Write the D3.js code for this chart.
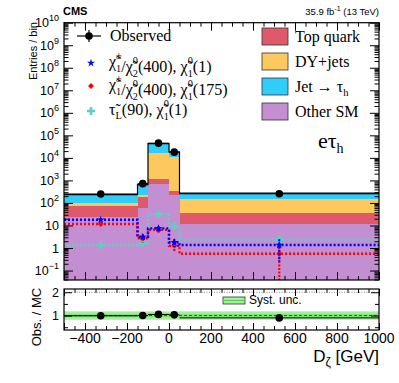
<!DOCTYPE html>
<html>
<head>
<meta charset="utf-8">
<script src="https://cdn.jsdelivr.net/npm/d3@7"></script>
<style>
  body { margin: 0; background: #fff; }
  svg { display: block; }
  .sans { font-family: "Liberation Sans", Arial, sans-serif; }
  .serif { font-family: "Liberation Serif", "Times New Roman", serif; }
</style>
</head>
<body>
<div id="chart"></div>
<script>
// bins in D_zeta [GeV]
const binEdges = [-500, -150, -100, 0, 50, 1000];
const binCenters = [-325, -125, -50, 25, 525];

// stacked backgrounds (entries / bin)
const otherSM = [24, 60, 700, 214, 12];
const topQuark = [52, 118, 450, 111, 23];
const dyJets = [24, 56, 15850, 10675, 120];
const jetTau = [135, 416, 26000, 7600, 120];

// data
const observed = [250, 720, 45000, 18000, 255];

// signals
const sigC1N2_1 = [18, 3.1, 7.4, 1.8, 1.35];
const sigC1N2_1Err = [3, 1.0, 2, 0.7, 1.1];
const sigC1N2_175 = [11.7, 2.7, 6.5, 1.25, 0.56];
const sigC1N2_175Err = [2.5, 1.0, 1.8, 0.6, 0.56];
const sigStau = [1.35, 1.6, 32, 9.1, 2.35];
const sigStauErr = [0.4, 0.6, 7, 3, 0.6];

// ratio panel
const ratio = [0.99, 1.0, 1.05, 1.03, 0.9];
const ratioErr = [0.06, 0.04, 0.01, 0.01, 0.06];
const systUnc = 0.18;

const xTicks = [-400, -200, 0, 200, 400, 600, 800, 1000];

const W = 399, H = 383;
const L = 64, R = 379, T = 22.7, B = 280, RT = 289, RB = 330;

const svg = d3.select("#chart").append("svg")
  .attr("width", W).attr("height", H);

const x = d3.scaleLinear().domain([-500, 1000]).range([L, R]);
const y = d3.scaleLog().domain([0.038, 1e10]).range([B, T]);
const yr = d3.scaleLinear().domain([0.38, 2.14]).range([RB, RT]);

const colors = {
  otherSM: "#c38ed2",
  topQuark: "#de5a6b",
  dyJets: "#fdc95f",
  jetTau: "#30cdfb"
};

svg.append("defs").append("clipPath").attr("id", "clipMain")
  .append("rect").attr("x", L).attr("y", T).attr("width", R - L).attr("height", B - T);

const main = svg.append("g").attr("clip-path", "url(#clipMain)");

// stack
const rows = binCenters.map((c, i) => ({
  i, otherSM: otherSM[i], topQuark: topQuark[i], dyJets: dyJets[i], jetTau: jetTau[i]
}));
const keys = ["otherSM", "topQuark", "dyJets", "jetTau"];
const series = d3.stack().keys(keys)(rows);
const yMin = y.domain()[0];

series.forEach(s => {
  main.selectAll(null).data(s).enter().append("rect")
    .attr("x", d => x(binEdges[d.data.i]))
    .attr("width", d => x(binEdges[d.data.i + 1]) - x(binEdges[d.data.i]))
    .attr("y", d => y(d[1]))
    .attr("height", d => y(Math.max(d[0], yMin)) - y(d[1]))
    .attr("fill", colors[s.key])
    .attr("shape-rendering", "crispEdges");
});

// total outline
const totals = series[series.length - 1].map(d => d[1]);
const step = d3.line().curve(d3.curveStepAfter).x(d => x(d[0])).y(d => y(d[1]));
const stepPts = arr => binEdges.map((e, i) => [e, arr[Math.min(i, arr.length - 1)]]);
main.append("path").attr("d", step(stepPts(totals)))
  .attr("fill", "none").attr("stroke", "#000").attr("stroke-width", 1.2);

// signals
const signals = [
  { vals: sigStau, err: sigStauErr, color: "#5fcfbf", marker: "cross" },
  { vals: sigC1N2_175, err: sigC1N2_175Err, color: "#ff0000", marker: "diamond" },
  { vals: sigC1N2_1, err: sigC1N2_1Err, color: "#0000ff", marker: "star" }
];
const markerPath = {
  star: d3.symbol().type(d3.symbolStar).size(20),
  diamond: d3.symbol().type(d3.symbolDiamond2).size(22),
  cross: d3.symbol().type(d3.symbolCross).size(36)
};
signals.forEach(sg => {
  main.append("path").attr("d", step(stepPts(sg.vals)))
    .attr("fill", "none").attr("stroke", sg.color)
    .attr("stroke-width", 2.4).attr("stroke-dasharray", "2,2");
  main.selectAll(null).data(sg.vals).enter().append("line")
    .attr("x1", (d, i) => x(binCenters[i])).attr("x2", (d, i) => x(binCenters[i]))
    .attr("y1", (d, i) => y(d + sg.err[i]))
    .attr("y2", (d, i) => y(Math.max(d - sg.err[i], yMin)))
    .attr("stroke", sg.color).attr("stroke-width", 2.2).attr("stroke-dasharray", "2,1.5");
  main.selectAll(null).data(sg.vals).enter().append("path")
    .attr("d", markerPath[sg.marker])
    .attr("transform", (d, i) => `translate(${x(binCenters[i])},${y(d)})`)
    .attr("fill", sg.color);
});

// observed
main.selectAll(null).data(observed).enter().append("line")
  .attr("x1", (d, i) => x(binEdges[i])).attr("x2", (d, i) => x(binEdges[i + 1]))
  .attr("y1", d => y(d)).attr("y2", d => y(d))
  .attr("stroke", "#000").attr("stroke-width", 1);
main.selectAll(null).data(observed).enter().append("line")
  .attr("x1", (d, i) => x(binCenters[i])).attr("x2", (d, i) => x(binCenters[i]))
  .attr("y1", d => y(d + Math.sqrt(d))).attr("y2", d => y(d - Math.sqrt(d)))
  .attr("stroke", "#000").attr("stroke-width", 1);
main.selectAll(null).data(observed).enter().append("circle")
  .attr("cx", (d, i) => x(binCenters[i])).attr("cy", d => y(d))
  .attr("r", 3.8).attr("fill", "#000");

// axes: main panel
const yMajors = d3.range(-1, 11).map(k => Math.pow(10, k));
const yMinors = [];
d3.range(-2, 10).forEach(k => d3.range(2, 10).forEach(m => {
  const v = m * Math.pow(10, k);
  if (v >= yMin && v <= 1e10) yMinors.push(v);
}));
const xMinors = d3.range(-500, 1001, 50);

function ticks(g, axis) { g.call(axis); g.select(".domain").remove(); g.selectAll("text").remove(); }

svg.append("g").attr("transform", `translate(${L},0)`)
  .call(g => ticks(g, d3.axisLeft(y).tickValues(yMajors).tickSize(-9)));
svg.append("g").attr("transform", `translate(${L},0)`)
  .call(g => ticks(g, d3.axisLeft(y).tickValues(yMinors).tickSize(-4.5)));
svg.append("g").attr("transform", `translate(${R},0)`)
  .call(g => ticks(g, d3.axisRight(y).tickValues(yMajors).tickSize(-9)));
svg.append("g").attr("transform", `translate(${R},0)`)
  .call(g => ticks(g, d3.axisRight(y).tickValues(yMinors).tickSize(-4.5)));

[[B, d3.axisBottom], [T, d3.axisTop], [RB, d3.axisBottom], [RT, d3.axisTop]].forEach(([yy, ax]) => {
  svg.append("g").attr("transform", `translate(0,${yy})`)
    .call(g => ticks(g, ax(x).tickValues(xTicks.concat([-500])).tickSize(yy === RT || yy === RB ? -7 : -8)));
  svg.append("g").attr("transform", `translate(0,${yy})`)
    .call(g => ticks(g, ax(x).tickValues(xMinors).tickSize(-4)));
});

// frames
svg.append("rect").attr("x", L).attr("y", T).attr("width", R - L).attr("height", B - T)
  .attr("fill", "none").attr("stroke", "#000").attr("stroke-width", 1.2);

// y tick labels (log)
const yLab = svg.append("g").attr("class", "sans").attr("font-size", 12.5).attr("fill", "#000");
yMajors.forEach(v => {
  const k = Math.round(Math.log10(v));
  const t = yLab.append("text").attr("x", 59).attr("y", y(v) + 4.5).attr("text-anchor", "end");
  if (k === 0) t.text("1");
  else if (k === 1) t.text("10");
  else {
    t.append("tspan").text("10");
    t.append("tspan").attr("dy", -6).attr("font-size", 9).text(k < 0 ? "\u2212" + (-k) : k);
  }
});

// ratio panel
const rp = svg.append("g");
rp.append("rect").attr("x", L).attr("y", yr(1 + systUnc)).attr("width", R - L)
  .attr("height", yr(1 - systUnc) - yr(1 + systUnc)).attr("fill", "#a3f09c");
rp.append("rect").attr("x", L).attr("y", yr(1 + 0.07)).attr("width", R - L)
  .attr("height", yr(1 - 0.07) - yr(1 + 0.07)).attr("fill", "#7fe47a");
rp.append("line").attr("x1", L).attr("x2", R).attr("y1", yr(2)).attr("y2", yr(2))
  .attr("stroke", "#888").attr("stroke-width", 1).attr("stroke-dasharray", "1,1.5");
rp.append("line").attr("x1", L).attr("x2", R).attr("y1", yr(1)).attr("y2", yr(1))
  .attr("stroke", "#ff0000").attr("stroke-width", 1).attr("stroke-dasharray", "3,2");
rp.selectAll(null).data(ratio).enter().append("line")
  .attr("x1", (d, i) => x(binEdges[i])).attr("x2", (d, i) => x(binEdges[i + 1]))
  .attr("y1", d => yr(d)).attr("y2", d => yr(d))
  .attr("stroke", "#000").attr("stroke-width", 1);
rp.selectAll(null).data(ratio).enter().append("line")
  .attr("x1", (d, i) => x(binCenters[i])).attr("x2", (d, i) => x(binCenters[i]))
  .attr("y1", (d, i) => yr(d + ratioErr[i])).attr("y2", (d, i) => yr(d - ratioErr[i]))
  .attr("stroke", "#000").attr("stroke-width", 1);
rp.selectAll(null).data(ratio).enter().append("circle")
  .attr("cx", (d, i) => x(binCenters[i])).attr("cy", d => yr(d))
  .attr("r", 3.8).attr("fill", "#000");

svg.append("g").attr("transform", `translate(${L},0)`)
  .call(g => ticks(g, d3.axisLeft(yr).tickValues([1, 2]).tickSize(-8)));
svg.append("g").attr("transform", `translate(${L},0)`)
  .call(g => ticks(g, d3.axisLeft(yr).tickValues([0.5, 1.5]).tickSize(-4)));
svg.append("g").attr("transform", `translate(${R},0)`)
  .call(g => ticks(g, d3.axisRight(yr).tickValues([1, 2]).tickSize(-8)));
svg.append("g").attr("transform", `translate(${R},0)`)
  .call(g => ticks(g, d3.axisRight(yr).tickValues([0.5, 1.5]).tickSize(-4)));

svg.append("rect").attr("x", L).attr("y", RT).attr("width", R - L).attr("height", RB - RT)
  .attr("fill", "none").attr("stroke", "#000").attr("stroke-width", 1.2);

const rLab = svg.append("g").attr("class", "sans").attr("font-size", 12.5);
[1, 2].forEach(v => rLab.append("text").attr("x", 59).attr("y", yr(v) + 4.5)
  .attr("text-anchor", "end").text(v));

// x tick labels
const xLab = svg.append("g").attr("class", "sans").attr("font-size", 14);
xTicks.forEach(v => xLab.append("text").attr("x", x(v)).attr("y", 343)
  .attr("text-anchor", "middle").text(v < 0 ? "\u2212" + (-v) : v));

// axis titles
const xt = svg.append("text").attr("class", "sans").attr("font-size", 17)
  .attr("x", R).attr("y", 362).attr("text-anchor", "end");
xt.append("tspan").text("D");
xt.append("tspan").attr("dy", 4).attr("font-size", 12).text("\u03B6");
xt.append("tspan").attr("dy", -4).text(" [GeV]");

svg.append("text").attr("class", "sans").attr("font-size", 11)
  .attr("transform", "translate(37,22) rotate(-90)").attr("text-anchor", "end")
  .text("Entries / bin");
svg.append("text").attr("class", "sans").attr("font-size", 13)
  .attr("transform", "translate(41,317) rotate(-90)").attr("text-anchor", "middle")
  .text("Obs. / MC");

// header
svg.append("text").attr("class", "sans").attr("font-size", 11).attr("font-weight", "bold")
  .attr("x", 63).attr("y", 15).text("CMS");
const lumi = svg.append("text").attr("class", "sans").attr("font-size", 9.5)
  .attr("x", R).attr("y", 15).attr("text-anchor", "end");
lumi.append("tspan").text("35.9 fb");
lumi.append("tspan").attr("dy", -4).attr("font-size", 7).text("-1");
lumi.append("tspan").attr("dy", 4).text(" (13 TeV)");

// channel label
const ch = svg.append("text").attr("class", "serif").attr("font-size", 22)
  .attr("x", 318).attr("y", 148);
ch.append("tspan").text("e\u03C4");
ch.append("tspan").attr("dy", 5).attr("font-size", 14).text("h");

// rich text helper: parts are strings or {sup, sub}
function rich(sel, parts, fs) {
  let pendingDy = 0;
  parts.forEach(p => {
    if (typeof p === "string") {
      sel.append("tspan").attr("dy", pendingDy).text(p);
      pendingDy = 0;
    } else {
      const small = fs * 0.64;
      const sup = sel.append("tspan").attr("dy", pendingDy - fs * 0.48).attr("font-size", small).text(p.sup);
      const supW = sup.node().getComputedTextLength();
      const sub = sel.append("tspan").attr("dx", -supW).attr("dy", fs * 0.8).attr("font-size", small).text(p.sub);
      const subW = sub.node().getComputedTextLength();
      pendingDy = -fs * 0.32;
      if (supW > subW) sel.append("tspan").attr("dx", supW - subW).attr("dy", pendingDy).text(""), pendingDy = 0;
    }
  });
}

// legend left
const chi = "\u03C7\u0303";
const legL = svg.append("g").attr("class", "serif");
const lfs = 16;
const legRows = [41, 67, 90, 115];
legL.append("line").attr("x1", 77).attr("x2", 101).attr("y1", legRows[0] - 5).attr("y2", legRows[0] - 5)
  .attr("stroke", "#000").attr("stroke-width", 1.2);
legL.append("line").attr("x1", 89).attr("x2", 89).attr("y1", legRows[0] - 11).attr("y2", legRows[0] + 1)
  .attr("stroke", "#000").attr("stroke-width", 1.2);
legL.append("circle").attr("cx", 89).attr("cy", legRows[0] - 5).attr("r", 3.8).attr("fill", "#000");
legL.append("text").attr("x", 110).attr("y", legRows[0]).attr("font-size", lfs).text("Observed");

legL.append("path").attr("d", markerPath.star).attr("transform", `translate(91,${legRows[1] - 4})`).attr("fill", "#0000ff");
legL.append("path").attr("d", markerPath.diamond).attr("transform", `translate(91,${legRows[2] - 4})`).attr("fill", "#ff0000");
legL.append("path").attr("d", markerPath.cross).attr("transform", `translate(91,${legRows[3] - 4})`).attr("fill", "#5fcfbf");

rich(legL.append("text").attr("x", 109).attr("y", legRows[1]).attr("font-size", lfs),
  [chi, { sup: "\u00B1", sub: "1" }, "/" + chi, { sup: "0", sub: "2" }, "(400), " + chi, { sup: "0", sub: "1" }, "(1)"], lfs);
rich(legL.append("text").attr("x", 109).attr("y", legRows[2]).attr("font-size", lfs),
  [chi, { sup: "\u00B1", sub: "1" }, "/" + chi, { sup: "0", sub: "2" }, "(400), " + chi, { sup: "0", sub: "1" }, "(175)"], lfs);
const stauT = legL.append("text").attr("x", 109).attr("y", legRows[3]).attr("font-size", lfs);
stauT.append("tspan").text("\u03C4\u0303");
stauT.append("tspan").attr("dy", 4).attr("font-size", 10.5).text("L");
stauT.append("tspan").attr("dy", -4).text("(90), ");
rich(stauT, [chi, { sup: "0", sub: "1" }, "(1)"], lfs);

// legend right
const legRData = [
  { key: "topQuark", label: ["Top quark"] },
  { key: "dyJets", label: ["DY+jets"] },
  { key: "jetTau", label: ["Jet \u2192 \u03C4", "h"] },
  { key: "otherSM", label: ["Other SM"] }
];
const legR = svg.append("g").attr("class", "serif");
legR.selectAll("g").data(legRData).enter().append("g")
  .attr("transform", (d, i) => `translate(262,${28 + i * 25})`)
  .each(function (d) {
    const g = d3.select(this);
    g.append("rect").attr("width", 26).attr("height", 17)
      .attr("fill", colors[d.key]).attr("stroke", "#333").attr("stroke-width", 0.8);
    const t = g.append("text").attr("x", 33).attr("y", 14).attr("font-size", 16);
    t.append("tspan").text(d.label[0]);
    if (d.label[1]) t.append("tspan").attr("dy", 4).attr("font-size", 10.5).text(d.label[1]);
  });

// syst legend in ratio panel
svg.append("rect").attr("x", 223).attr("y", 297).attr("width", 22).attr("height", 7)
  .attr("fill", "#a3f09c").attr("stroke", "#333").attr("stroke-width", 0.8);
svg.append("line").attr("x1", 223).attr("x2", 245).attr("y1", 300.5).attr("y2", 300.5)
  .attr("stroke", "#55cc55").attr("stroke-width", 1);
svg.append("text").attr("class", "sans").attr("font-size", 12)
  .attr("x", 249).attr("y", 304).text("Syst. unc.");
</script>
</body>
</html>
